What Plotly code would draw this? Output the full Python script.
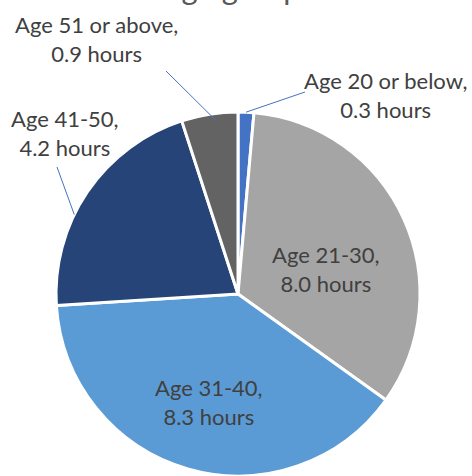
import math
import plotly.graph_objects as go

# ---- data ----
labels = ["Age 20 or below", "Age 21-30", "Age 31-40", "Age 41-50", "Age 51 or above"]
hours = [0.3, 8.0, 8.3, 4.2, 0.9]
# slice sizes as drawn in the picture (percent of the circle)
share = [1.4, 33.5, 39.1, 21.0, 5.0]
colors = ["#4472C4", "#A5A5A5", "#5B9BD5", "#264478", "#636363"]
title_text = "Hours in each age group"

# ---- layout geometry (pixels) ----
W, H = 472, 476
cx, cy, R = 238, 294, 182
FONT = "Lato"
TXT = "#404040"
FS = 22

fig = go.Figure(go.Pie(
    labels=labels,
    values=share,
    customdata=hours,
    sort=False,
    direction="clockwise",
    rotation=0,
    marker=dict(colors=colors, line=dict(color="white", width=3)),
    textposition="none",
    hovertemplate="%{label}: %{customdata:.1f} hours<extra></extra>",
    showlegend=False,
    domain=dict(x=[(cx - R) / W, (cx + R) / W], y=[(H - cy - R) / H, (H - cy + R) / H]),
))

total = sum(share)
starts = []
acc = 0.0
for v in share:
    starts.append(acc / total)
    acc += v

# data-label centres (px); leader (start px, fraction along slice, radius fraction) or None
label_pos = {
    0: ((385, 95), ((305, 92), 0.5, 1.0)),
    1: ((326, 269), None),
    2: ((209, 402), None),
    3: ((65, 133), ((57, 167), 0.39, 1.0)),
    4: ((96, 39), ((166, 71), 0.6, 0.96)),
}
annotations = []
shapes = []
for i, ((tx, ty), leader) in label_pos.items():
    annotations.append(dict(
        x=tx / W, y=1 - ty / H, xref="paper", yref="paper",
        xanchor="center", yanchor="middle",
        text=f"{labels[i]},<br>{hours[i]:.1f} hours", showarrow=False,
        font=dict(family=FONT, size=FS, color=TXT), align="center",
    ))
    if leader is not None:
        (lx, ly), f, rf = leader
        frac = starts[i] + f * share[i] / total
        ang = 2 * math.pi * frac
        hx = cx + rf * R * math.sin(ang)
        hy = cy - rf * R * math.cos(ang)
        shapes.append(dict(
            type="line", xref="paper", yref="paper",
            x0=lx / W, y0=1 - ly / H, x1=hx / W, y1=1 - hy / H,
            line=dict(color="#4472C4", width=1),
        ))

# title (mostly above the visible area, as in the reference)
annotations.append(dict(
    x=303 / W, y=1 + 12 / H, xref="paper", yref="paper",
    xanchor="right", yanchor="middle", showarrow=False,
    text=title_text, font=dict(family=FONT, size=31, color="#595959"),
))

fig.update_layout(
    width=W, height=H,
    margin=dict(l=0, r=0, t=0, b=0),
    paper_bgcolor="white", plot_bgcolor="white",
    annotations=annotations,
    shapes=shapes,
)

fig.write_html("out.html")
